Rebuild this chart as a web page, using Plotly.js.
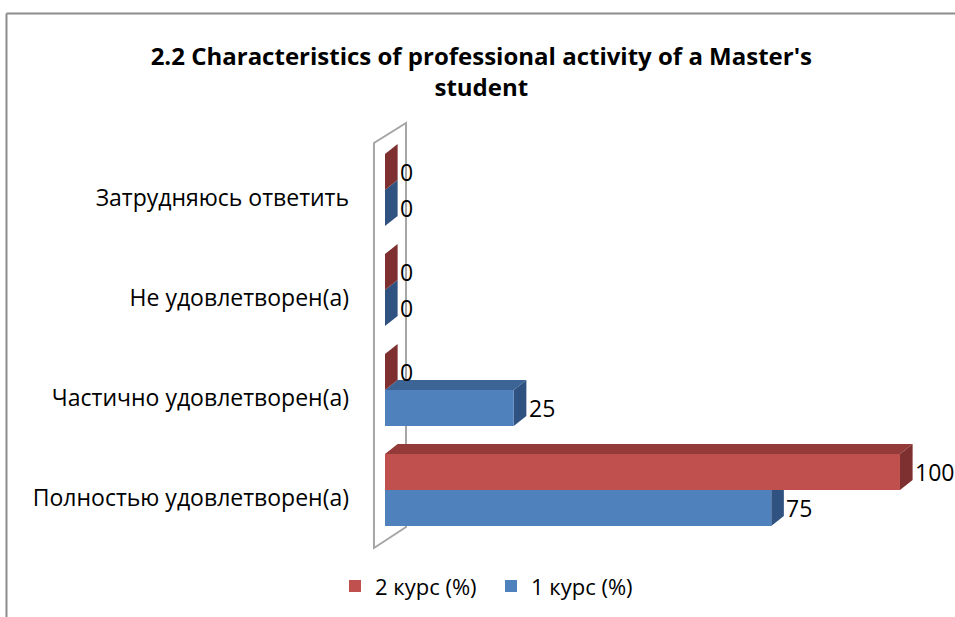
<!DOCTYPE html>
<html>
<head>
<meta charset="utf-8">
<script src="https://cdn.plot.ly/plotly-3.0.1.min.js"></script>
<style>
  html, body { margin: 0; padding: 0; background: #fff; }
  #chart { width: 955px; height: 617px; }
</style>
</head>
<body>
<div id="chart"></div>
<script>
// ---- data ----
const categories = ['Полностью удовлетворен(а)', 'Частично удовлетворен(а)', 'Не удовлетворен(а)', 'Затрудняюсь ответить'];
const course1 = [75, 25, 0, 0];   // 1 курс (%)
const course2 = [100, 0, 0, 0];   // 2 курс (%)
const seriesNames = ['1 курс (%)', '2 курс (%)'];

// ---- style ----
const FONT = 'Open Sans, Noto Sans, sans-serif';
const BLUE = '#4F81BD', BLUE_TOP = '#3C6494', BLUE_SIDE = '#2F5281';
const RED = '#C0504D', RED_TOP = '#943B39', RED_SIDE = '#7D302F';
const BAR_W = 0.36;       // width of each bar in category units
const DX = 2.45;          // 3D depth offset in x units
const DY = 0.10;          // 3D depth offset in y units

const idx = categories.map((_, i) => i);

const traces = [
  {
    type: 'bar', orientation: 'h', name: seriesNames[0],
    x: course1, y: idx, base: 0, offset: -BAR_W, width: BAR_W,
    marker: { color: BLUE, line: { width: 0 } }, hoverinfo: 'x+name'
  },
  {
    type: 'bar', orientation: 'h', name: seriesNames[1],
    x: course2, y: idx, base: 0, offset: 0, width: BAR_W,
    marker: { color: RED, line: { width: 0 } }, hoverinfo: 'x+name'
  }
];

// 3D faces (top + right side) computed from the data
const shapes = [];
// wall (decorative)
shapes.push({
  type: 'path', xref: 'x', yref: 'y', layer: 'below',
  path: 'M -2.14,-0.58 L -2.14,3.47 L 4.08,3.67 L 4.08,-0.37 Z',
  line: { color: '#A6A6A6', width: 2 }, fillcolor: 'rgba(0,0,0,0)'
});
function faces(vals, lowOff, topCol, sideCol) {
  vals.forEach((v, i) => {
    const y0 = i + lowOff, y1 = y0 + BAR_W;
    if (v > 0) {
      shapes.push({
        type: 'path', xref: 'x', yref: 'y', layer: 'below',
        path: `M 0,${y1} L ${v},${y1} L ${v + DX},${y1 + DY} L ${DX},${y1 + DY} Z`,
        fillcolor: topCol, line: { width: 0 }
      });
    }
    shapes.push({
      type: 'path', xref: 'x', yref: 'y', layer: 'below',
      path: `M ${v},${y0} L ${v},${y1} L ${v + DX},${y1 + DY} L ${v + DX},${y0 + DY} Z`,
      fillcolor: sideCol, line: { width: 0 }
    });
  });
}
faces(course1, -BAR_W, BLUE_TOP, BLUE_SIDE);
faces(course2, 0, RED_TOP, RED_SIDE);

// outer chart frame (top and left edges)
shapes.push({ type: 'line', xref: 'paper', yref: 'paper', x0: -0.6043, x1: 1.02, y0: 1.2144, y1: 1.2144, line: { color: '#8C8C8C', width: 2 } });
shapes.push({ type: 'line', xref: 'paper', yref: 'paper', x0: -0.6043, x1: -0.6043, y0: 1.2144, y1: -0.14, line: { color: '#8C8C8C', width: 2 } });

// data labels
const LABEL_FONT = { family: FONT, size: 23, color: '#000' };
const annotations = [];
course1.forEach((v, i) => annotations.push({
  x: v, y: i - BAR_W / 2, xref: 'x', yref: 'y', text: String(v), showarrow: false,
  xanchor: 'left', yanchor: 'middle', xshift: 13, font: LABEL_FONT
}));
course2.forEach((v, i) => annotations.push({
  x: v, y: i + BAR_W / 2, xref: 'x', yref: 'y', text: String(v), showarrow: false,
  xanchor: 'left', yanchor: 'middle', xshift: 13, font: LABEL_FONT
}));

const layout = {
  width: 955, height: 617,
  paper_bgcolor: '#ffffff', plot_bgcolor: 'rgba(0,0,0,0)',
  margin: { l: 360, r: 10, t: 110, b: 57 },
  font: { family: FONT, color: '#000' },
  title: {
    text: "<b>2.2 Characteristics of professional activity of a Master's<br>student</b>",
    xref: 'container', yref: 'container', x: 0.504, y: 0.895, xanchor: 'center', yanchor: 'middle',
    font: { family: FONT, size: 24, color: '#000' }
  },
  barmode: 'overlay',
  showlegend: true,
  legend: {
    orientation: 'h', traceorder: 'reversed', itemwidth: 30, entrywidth: 111,
    xref: 'container', yref: 'container', x: 335 / 955, y: 0.05, xanchor: 'left', yanchor: 'middle',
    font: { family: FONT, size: 22, color: '#000' }
  },
  xaxis: {
    range: [-4.854, 108.74], visible: false, showgrid: false, zeroline: false, fixedrange: true
  },
  yaxis: {
    range: [-0.7, 3.8], tickvals: idx, ticktext: categories,
    showgrid: false, zeroline: false, showline: false,
    ticks: '', ticklabelstandoff: 10, ticklabelshift: 8,
    tickfont: { family: FONT, size: 23, color: '#000' }, fixedrange: true
  },
  shapes: shapes,
  annotations: annotations
};

Plotly.newPlot('chart', traces, layout, { displayModeBar: false, staticPlot: true });
</script>
</body>
</html>
